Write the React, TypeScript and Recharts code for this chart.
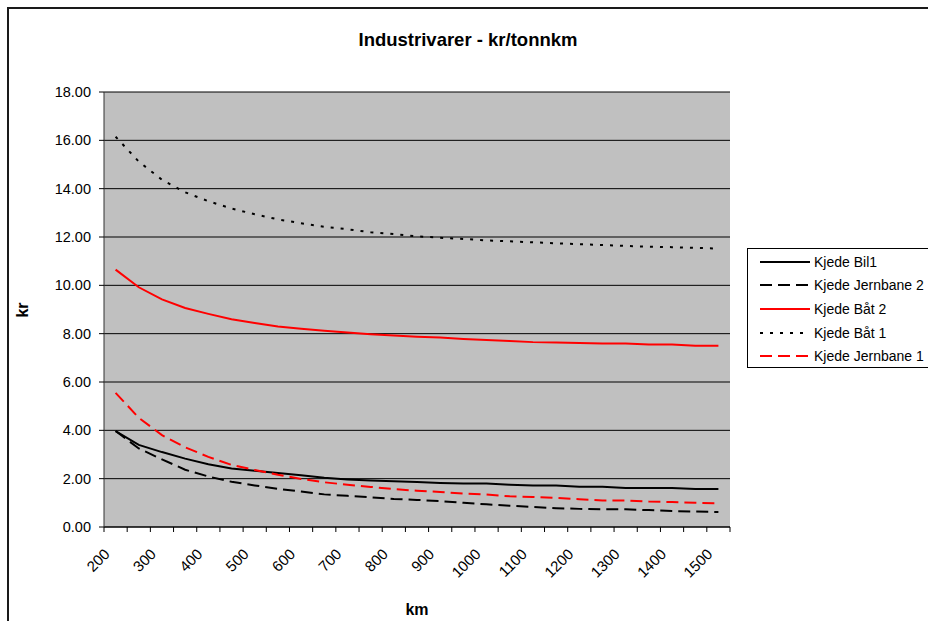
import React from 'react';
import { LineChart, Line, XAxis, YAxis, CartesianGrid, Legend } from 'recharts';

const categories = [200, 250, 300, 350, 400, 450, 500, 550, 600, 650, 700, 750, 800, 850, 900, 950, 1000, 1050, 1100, 1150, 1200, 1250, 1300, 1350, 1400, 1450, 1500];

const kjedeBil1 = [3.97, 3.40, 3.10, 2.83, 2.60, 2.42, 2.33, 2.23, 2.14, 2.04, 1.97, 1.92, 1.89, 1.86, 1.82, 1.80, 1.80, 1.75, 1.72, 1.72, 1.67, 1.67, 1.61, 1.61, 1.61, 1.57, 1.57];
const kjedeJernbane2 = [3.97, 3.25, 2.80, 2.37, 2.09, 1.87, 1.72, 1.58, 1.47, 1.35, 1.29, 1.23, 1.16, 1.12, 1.07, 1.00, 0.94, 0.88, 0.83, 0.78, 0.75, 0.73, 0.73, 0.70, 0.66, 0.64, 0.62];
const kjedeBat2 = [10.65, 9.92, 9.42, 9.06, 8.82, 8.60, 8.44, 8.30, 8.20, 8.12, 8.05, 7.98, 7.92, 7.87, 7.84, 7.78, 7.74, 7.70, 7.65, 7.63, 7.61, 7.59, 7.59, 7.55, 7.55, 7.50, 7.50];
const kjedeBat1 = [16.15, 15.12, 14.37, 13.85, 13.48, 13.18, 12.94, 12.73, 12.57, 12.42, 12.32, 12.20, 12.12, 12.03, 11.97, 11.92, 11.86, 11.82, 11.78, 11.74, 11.70, 11.67, 11.63, 11.60, 11.58, 11.55, 11.52];
const kjedeJernbane1 = [5.55, 4.52, 3.80, 3.30, 2.90, 2.57, 2.36, 2.16, 1.99, 1.85, 1.75, 1.66, 1.57, 1.50, 1.45, 1.38, 1.34, 1.27, 1.24, 1.20, 1.15, 1.10, 1.10, 1.05, 1.03, 1.00, 0.98];

const yTicks = [0, 2, 4, 6, 8, 10, 12, 14, 16, 18];

const series = [
  { key: 'bil1', name: 'Kjede Bil1', values: kjedeBil1, color: '#000000', dash: undefined as string | undefined },
  { key: 'jb2', name: 'Kjede Jernbane 2', values: kjedeJernbane2, color: '#000000', dash: '12 6' },
  { key: 'bat2', name: 'Kjede Båt 2', values: kjedeBat2, color: '#FF0000', dash: undefined },
  { key: 'bat1', name: 'Kjede Båt 1', values: kjedeBat1, color: '#000000', dash: '3 7' },
  { key: 'jb1', name: 'Kjede Jernbane 1', values: kjedeJernbane1, color: '#FF0000', dash: '12 6' },
];

const data = categories.map((km, i) => {
  const row: Record<string, number> = { km };
  series.forEach((s) => {
    row[s.key] = s.values[i];
  });
  return row;
});

const W = 928;
const H = 621;
const PLOT_LEFT = 104;
const PLOT_RIGHT = 730;
const PLOT_TOP = 92;
const PLOT_BOTTOM = 527;
const STEP = (PLOT_RIGHT - PLOT_LEFT) / categories.length;
const FONT = '"Liberation Sans", Arial, Helvetica, sans-serif';

function XTick(props: any) {
  const { x, y, payload, index } = props;
  const half = STEP / 2;
  const tx = x - 5;
  const ty = y + 28;
  return (
    <g>
      <line x1={x - half} y1={y} x2={x - half} y2={y + 5} stroke="#000" strokeWidth={1} />
      {index === categories.length - 1 && (
        <line x1={x + half} y1={y} x2={x + half} y2={y + 5} stroke="#000" strokeWidth={1} />
      )}
      {index % 2 === 0 && (
        <text
          x={tx}
          y={ty}
          textAnchor="end"
          transform={`rotate(-45 ${tx} ${ty})`}
          fontSize={15}
          fontFamily={FONT}
          fill="#000"
        >
          {payload.value}
        </text>
      )}
    </g>
  );
}

function LegendBox() {
  return (
    <div
      style={{
        border: '1px solid #000',
        background: '#fff',
        width: 190,
        height: 120,
        boxSizing: 'border-box',
        paddingTop: 1,
        fontFamily: FONT,
        fontSize: 14,
        color: '#000',
      }}
    >
      {series.map((s) => (
        <div key={s.key} style={{ display: 'flex', alignItems: 'center', height: 23.6, whiteSpace: 'nowrap' }}>
          <svg width={50} height={10} style={{ marginLeft: 12, display: 'block' }}>
            <line x1={0} y1={5} x2={50} y2={5} stroke={s.color} strokeWidth={2} strokeDasharray={s.dash} />
          </svg>
          <span style={{ marginLeft: 4 }}>{s.name}</span>
        </div>
      ))}
    </div>
  );
}

export default function App() {
  return (
    <div style={{ position: 'absolute', left: 0, top: 0, width: W, height: H, overflow: 'hidden', background: '#fff', fontFamily: FONT }}>
      <LineChart
        width={W}
        height={H}
        data={data}
        margin={{ top: PLOT_TOP, right: W - PLOT_RIGHT, left: 0, bottom: 0 }}
      >
        <CartesianGrid yAxisId="left" vertical={false} stroke="#000" strokeWidth={1} fill="#C0C0C0" fillOpacity={1} />
        <XAxis
          dataKey="km"
          type="category"
          height={H - PLOT_BOTTOM}
          interval={0}
          tickSize={0}
          tickMargin={0}
          tickLine={false}
          padding={{ left: STEP / 2, right: STEP / 2 }}
          axisLine={{ stroke: '#000', strokeWidth: 1 }}
          tick={<XTick />}
        />
        <YAxis
          yAxisId="left"
          domain={[0, 18]}
          ticks={yTicks}
          interval={0}
          width={PLOT_LEFT}
          tickSize={5}
          tickMargin={8}
          tickFormatter={(v: number) => v.toFixed(2)}
          tick={{ fontSize: 14.5, fontFamily: FONT, fill: '#000' }}
          tickLine={{ stroke: '#000' }}
          axisLine={{ stroke: '#333', strokeWidth: 1 }}
        />
        <YAxis
          yAxisId="right"
          orientation="right"
          domain={[0, 18]}
          width={0}
          tick={false}
          tickLine={false}
          axisLine={{ stroke: '#808080', strokeWidth: 1 }}
        />
        {series.map((s) => (
          <Line
            key={s.key}
            yAxisId="left"
            type="linear"
            dataKey={s.key}
            name={s.name}
            stroke={s.color}
            strokeWidth={2}
            strokeDasharray={s.dash}
            dot={false}
            activeDot={false}
            isAnimationActive={false}
          />
        ))}
        <Legend
          layout="vertical"
          align="center"
          verticalAlign="middle"
          content={() => <LegendBox />}
          wrapperStyle={{ left: 747, top: 248, width: 190, height: 120 }}
        />
      </LineChart>
      <div
        style={{
          position: 'absolute',
          left: 7,
          top: 7,
          right: 0,
          bottom: 0,
          borderTop: '2px solid #1a1a1a',
          borderLeft: '2px solid #1a1a1a',
          pointerEvents: 'none',
        }}
      />
      <div
        style={{
          position: 'absolute',
          left: 468,
          top: 40,
          transform: 'translate(-50%, -50%)',
          fontSize: 18.5,
          fontWeight: 'bold',
          whiteSpace: 'nowrap',
          color: '#000',
        }}
      >
        Industrivarer - kr/tonnkm
      </div>
      <div
        style={{
          position: 'absolute',
          left: (PLOT_LEFT + PLOT_RIGHT) / 2,
          top: 610,
          transform: 'translate(-50%, -50%)',
          fontSize: 16,
          fontWeight: 'bold',
          color: '#000',
        }}
      >
        km
      </div>
      <div
        style={{
          position: 'absolute',
          left: 23,
          top: (PLOT_TOP + PLOT_BOTTOM) / 2,
          transform: 'translate(-50%, -50%) rotate(-90deg)',
          fontSize: 16,
          fontWeight: 'bold',
          color: '#000',
        }}
      >
        kr
      </div>
    </div>
  );
}
